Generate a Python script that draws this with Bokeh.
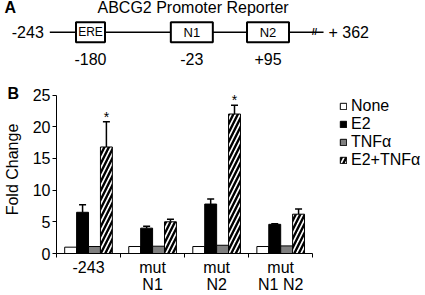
from bokeh.plotting import figure
from bokeh.models import (ColumnDataSource, Range1d, FixedTicker, Whisker, TeeHead,
                          Legend, LegendItem, Label)
from bokeh.transform import dodge
from bokeh.layouts import column
from bokeh.core.properties import value
from bokeh.embed import file_html
from bokeh.resources import INLINE

FONT = "Liberation Sans"
VF = value(FONT)

# ---------------- Panel A data ----------------
panelA_title = "ABCG2 Promoter Reporter"
promoter_start = -243
promoter_end = 362
start_label = "-243"
end_label = "+ 362"
element_names = ["ERE", "N1", "N2"]
element_pos = [-180, -23, 95]
element_pos_labels = ["-180", "-23", "+95"]

# ---------------- Panel B data ----------------
groups = ["-243", "mut\nN1", "mut\nN2", "mut\nN1 N2"]
treatments = ["None", "E2", "TNF\u03b1", "E2+TNF\u03b1"]
none_vals = [1.0, 1.1, 1.1, 1.1]
e2_vals = [6.5, 4.0, 7.8, 4.6]
e2_err = [1.2, 0.3, 0.8, 0.1]
tnf_vals = [1.1, 1.15, 1.3, 1.2]
combo_vals = [16.8, 5.0, 22.0, 6.2]
combo_err = [4.0, 0.4, 1.4, 0.8]
significant = [True, False, True, False]
y_ticks = [0, 5, 10, 15, 20, 25]

# ---------------- layout constants ----------------
W = 425
H1 = 70
H2 = 225
px_per_bp = 0.6456
start_px = 49.3            # px of promoter start inside panel A
break_display = 181        # displayed end of the (broken) line, bp units
line_y = 31.7
label_y = 58.3
box_widths = [29, 42, 42]
box_font = ["12px", "13px", "13px"]
frame_left = 52            # px where panel B's plot area begins
axis_right = 311           # px where panel B's x axis ends

# ================= Panel A =================
x0 = promoter_start - start_px / px_per_bp
pa = figure(width=W, height=H1, x_range=Range1d(x0, x0 + W / px_per_bp),
            y_range=Range1d(H1, 0), x_axis_location=None, y_axis_location=None,
            output_backend="svg", toolbar_location=None, min_border=0)
pa.frame_align = False
pa.outline_line_color = None
pa.grid.visible = False

pa.segment(x0=[promoter_start], y0=[line_y], x1=[break_display], y1=[line_y],
           line_color="black", line_width=1.5)

esrc = ColumnDataSource(dict(x=element_pos, name=element_names, lab=element_pos_labels,
                             w=box_widths, fs=box_font))
pa.rect(x="x", y=line_y, width="w", height=20, width_units="screen", height_units="screen",
        source=esrc, fill_color="white", line_color="black", line_width=2)
pa.text(x="x", y=line_y, text="name", source=esrc, text_align="center",
        text_baseline="middle", text_font_size="fs", text_font=VF, text_color="black")
pa.text(x="x", y=label_y, text="lab", source=esrc, text_align="center",
        text_baseline="middle", text_font_size="16px", text_font=VF, text_color="black")
pa.text(x=[promoter_start], y=[line_y], text=[start_label], x_offset=-6,
        text_align="right", text_baseline="middle", text_font_size="16px", text_font=VF,
        text_color="black")
pa.text(x=[break_display], y=[line_y], text=[end_label], x_offset=5,
        text_align="left", text_baseline="middle", text_font_size="16px", text_font=VF,
        text_color="black")
pa.text(x=[break_display], y=[line_y], text=["//"], x_offset=-9,
        text_align="center", text_baseline="middle", text_font_size="9px",
        text_font=VF, text_font_style="bold", text_color="black")

pa.add_layout(Label(x=97, y=H1 - 7, x_units="screen", y_units="screen", text=panelA_title,
                    text_align="left", text_baseline="middle", text_font_size="16px",
                    text_font=FONT, text_color="black"))
pa.add_layout(Label(x=4, y=H1 - 7, x_units="screen", y_units="screen", text="A",
                    text_align="left", text_baseline="middle", text_font_size="16px",
                    text_font=FONT, text_font_style="bold", text_color="black"))

# ================= Panel B =================
n = len(groups)
centers = [i + 0.5 for i in range(n)]
src = ColumnDataSource(dict(
    x=centers, none=none_vals, e2=e2_vals, tnf=tnf_vals, combo=combo_vals,
    e2_up=[v + e for v, e in zip(e2_vals, e2_err)],
    combo_up=[v + e for v, e in zip(combo_vals, combo_err)],
))

x_end = n * (W - frame_left) / (axis_right - frame_left)
pb = figure(width=W, height=H2, x_range=Range1d(0, x_end), y_range=Range1d(0, 26.5),
            output_backend="svg", toolbar_location=None,
            min_border_left=frame_left, min_border_right=0, min_border_top=15,
            min_border_bottom=39)
pb.frame_align = False
pb.outline_line_color = None
pb.grid.visible = False
pb.title.text = "B"
pb.title.align = "left"
pb.title.offset = -49
pb.title.standoff = -32
pb.title.text_font_size = "16px"
pb.title.text_font = FONT
pb.title.text_font_style = "bold"
pb.title.text_color = "black"

bw = 0.186
offs = [-1.5 * bw, -0.5 * bw, 0.5 * bw, 1.5 * bw]
r_none = pb.vbar(x=dodge("x", offs[0]), top="none", width=bw, source=src,
                 fill_color="white", line_color="black", line_width=1)
r_e2 = pb.vbar(x=dodge("x", offs[1]), top="e2", width=bw, source=src,
               fill_color="black", line_color="black", line_width=1)
r_tnf = pb.vbar(x=dodge("x", offs[2]), top="tnf", width=bw, source=src,
                fill_color="#7f7f7f", line_color="black", line_width=1)
r_combo = pb.vbar(x=dodge("x", offs[3]), top="combo", width=bw, source=src,
                  fill_color="white", line_color="black", line_width=1,
                  hatch_pattern="/", hatch_scale=9, hatch_weight=2.4, hatch_color="black")

for off, lo, up in [(offs[1], "e2", "e2_up"), (offs[3], "combo", "combo_up")]:
    pb.add_layout(Whisker(base=dodge("x", off), lower=lo, upper=up, source=src,
                          dimension="height", lower_head=None,
                          upper_head=TeeHead(size=7, line_width=1.5, line_color="black"),
                          line_width=1.5, line_color="black", level="overlay"))

sig_src = ColumnDataSource(dict(
    x=[c for c, s in zip(centers, significant) if s],
    y=[v + e for v, e, s in zip(combo_vals, combo_err, significant) if s],
    t=["*" for s in significant if s],
))
pb.text(x=dodge("x", offs[3]), y="y", text="t", source=sig_src, text_align="center",
        text_baseline="alphabetic", y_offset=-5, text_font_size="14px", text_font=VF,
        text_color="black")

# axes
ya = pb.yaxis[0]
ya.ticker = FixedTicker(ticks=y_ticks)
ya.bounds = (0, 25)
ya.major_tick_in = 0
ya.major_tick_out = 4
ya.minor_tick_line_color = None
ya.axis_line_color = "black"
ya.major_tick_line_color = "black"
ya.major_label_text_font_size = "16px"
ya.major_label_text_font = FONT
ya.major_label_text_color = "black"
ya.major_label_standoff = 2
ya.axis_label = "Fold Change"
ya.axis_label_text_font_size = "16px"
ya.axis_label_text_font = FONT
ya.axis_label_text_font_style = "normal"
ya.axis_label_text_color = "black"
ya.axis_label_standoff = 9

xa = pb.xaxis[0]
xa.ticker = FixedTicker(ticks=centers, minor_ticks=list(range(n + 1)))
xa.bounds = (0, n)
xa.major_label_overrides = {c: g for c, g in zip(centers, groups)}
xa.major_tick_line_color = None
xa.major_tick_out = 0
xa.major_tick_in = 0
xa.minor_tick_in = 0
xa.minor_tick_out = 4
xa.minor_tick_line_color = "black"
xa.axis_line_color = "black"
xa.major_label_text_font_size = "16px"
xa.major_label_text_font = FONT
xa.major_label_text_color = "black"
xa.major_label_text_line_height = 1.0
xa.major_label_standoff = 1

legend = Legend(items=[LegendItem(label=t, renderers=[r]) for t, r in
                       zip(treatments, [r_none, r_e2, r_tnf, r_combo])],
                location=(283, 84), glyph_width=8, glyph_height=8, label_height=8,
                label_standoff=4, spacing=-8, padding=3, margin=0,
                border_line_color=None, background_fill_alpha=0,
                label_text_font_size="16px", label_text_font=FONT, label_text_color="black")
pb.add_layout(legend, "center")

layout = column(pa, pb, spacing=0)
open("out.html", "w").write(file_html(layout, INLINE))
